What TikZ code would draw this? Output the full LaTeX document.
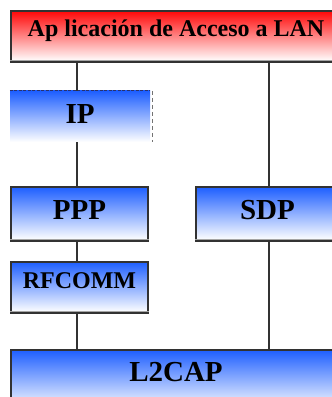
\documentclass[tikz,border=0pt]{standalone}
\usepackage{fontspec}
\setmainfont{Liberation Serif}
\definecolor{layerblue}{RGB}{30,95,255}
\definecolor{layerred}{RGB}{255,8,8}
\definecolor{edgegray}{RGB}{50,50,50}
\definecolor{shadowgray}{RGB}{165,165,165}
\definecolor{dashblue}{RGB}{40,50,110}
\tikzset{
  layer/.style={draw=edgegray, line width=1.3pt, top color=layerblue,
    bottom color=white, inner sep=0pt, font=\bfseries},
  big/.style={font=\bfseries\fontsize{29}{29}\selectfont, text height=19.2pt},
  link/.style={draw=edgegray, line width=1.3pt},
  base/.style={draw=edgegray, line width=2.2pt},
  baselight/.style={draw=shadowgray, line width=1pt}
}
\begin{document}
\begin{tikzpicture}[x=1pt,y=1pt]
  \useasboundingbox (0,0) rectangle (332,397);
  \clip (0,0) rectangle (332,397);

  % x positions of the two vertical links
  \coordinate (lx) at (77,0);
  \coordinate (rx) at (269,0);

  % protocol layers
  \node[layer, top color=layerred, minimum width=330pt, minimum height=50pt,
        font=\bfseries\fontsize{24}{24}\selectfont, text height=15.9pt, text depth=14pt]
        (app) at (176,361) {Ap licación de Acceso a LAN};
  \node[top color=layerblue, bottom color=white, inner sep=0pt,
        minimum width=140pt, minimum height=51pt, big, text depth=6pt]
        (ip) at (80,280.5) {IP};
  \node[layer, big, minimum width=137pt, minimum height=53pt, text depth=7pt]
        (ppp) at (79.5,183.5) {PPP};
  \node[layer, big, minimum width=143pt, minimum height=53pt, text depth=7pt]
        (sdp) at (267.5,183.5) {SDP};
  \node[layer, font=\bfseries\fontsize{24}{24}\selectfont, text height=15.9pt, text depth=12pt,
        minimum width=137pt, minimum height=50pt]
        (rfcomm) at (79.5,110) {RFCOMM};
  \node[layer, big, minimum width=330pt, minimum height=60pt, text depth=16pt]
        (l2cap) at (176,17) {L2CAP};

  % dashed outline of the IP layer
  \draw[dashblue, line width=1.2pt, dash pattern=on 3pt off 1.5pt]
    (ip.north west) -- (ip.north east);
  \draw[black!55, line width=1.2pt, dash pattern=on 4pt off 3pt]
    ([xshift=2pt]ip.north east) -- ([xshift=2pt]ip.south east);

  % heavy lower edges
  \foreach \n in {app,ppp,sdp,rfcomm}{
    \draw[baselight] ([yshift=1.6pt]\n.south west) -- ([yshift=1.6pt]\n.south east);
    \draw[base] (\n.south west) -- (\n.south east);
  }

  % links between layers
  \draw[link] (app.south -| lx) -- (ip.north -| lx);
  \draw[link] (ip.south -| lx) -- (ppp.north -| lx);
  \draw[link] (ppp.south -| lx) -- (rfcomm.north -| lx);
  \draw[link] (rfcomm.south -| lx) -- (l2cap.north -| lx);
  \draw[link] (app.south -| rx) -- (sdp.north -| rx);
  \draw[link] (sdp.south -| rx) -- (l2cap.north -| rx);
\end{tikzpicture}
\end{document}
